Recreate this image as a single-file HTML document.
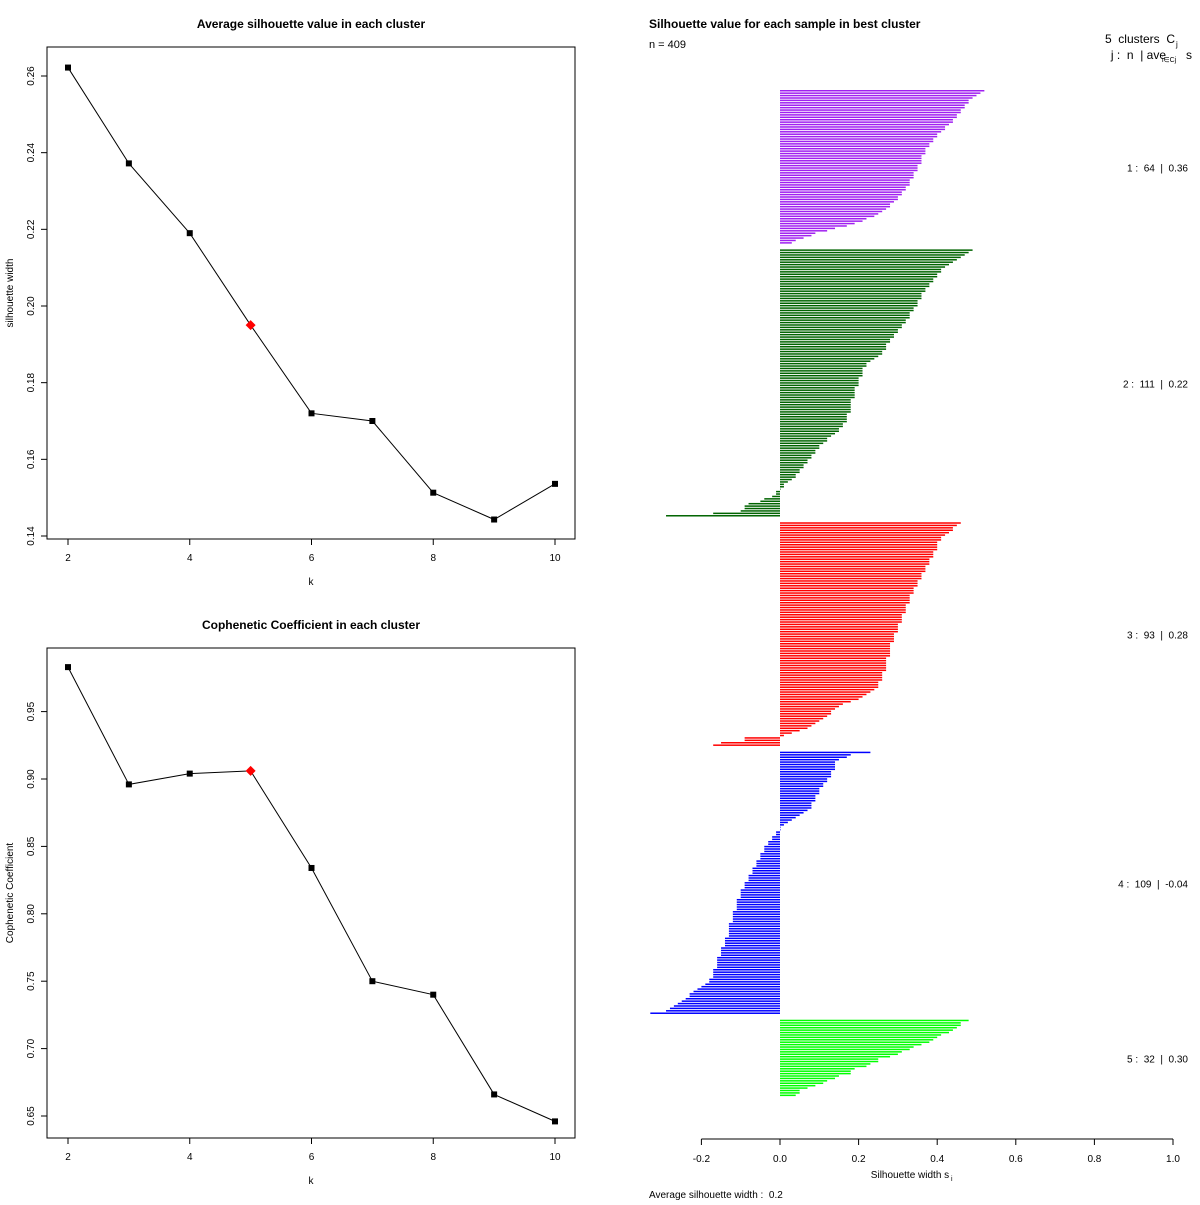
<!DOCTYPE html>
<html><head><meta charset="utf-8">
<style>
body{margin:0;background:#fff}
svg text{font-family:"Liberation Sans",sans-serif;fill:#000;white-space:pre}
</style></head>
<body>
<svg id="chart" width="1200" height="1200" xmlns="http://www.w3.org/2000/svg">
<rect x="0" y="0" width="1200" height="1200" fill="#fff"/>
<g id="p1"></g>
<g id="p2"></g>
<g id="p3"></g>
</svg>
<script>
const kVals=[2,3,4,5,6,7,8,9,10];
const silAvg=[0.2622,0.2372,0.219,0.195,0.172,0.170,0.1513,0.1443,0.1536];
const copheVals=[0.983,0.896,0.904,0.906,0.834,0.750,0.740,0.666,0.646];
const bestK=5;
const silTicks=[0.14,0.16,0.18,0.20,0.22,0.24,0.26];
const copTicks=[0.65,0.70,0.75,0.80,0.85,0.90,0.95];
const kTicks=[2,4,6,8,10];
const clusterNames=["1","2","3","4","5"];
const clusterColors=["#a020f0","#006400","#ff0000","#0000ff","#00ff00"];
const clusterAvg=["0.36","0.22","0.28","-0.04","0.30"];
const c1=[0.52,0.51,0.50,0.49,0.48,0.48,0.47,0.47,0.46,0.46,0.45,0.45,0.44,0.44,0.43,0.42,0.42,0.41,0.40,0.40,0.39,0.39,0.38,0.38,0.37,0.37,0.37,0.36,0.36,0.36,0.36,0.35,0.35,0.35,0.34,0.34,0.34,0.33,0.33,0.33,0.32,0.32,0.31,0.31,0.30,0.30,0.29,0.28,0.28,0.27,0.26,0.25,0.24,0.22,0.21,0.19,0.17,0.14,0.12,0.09,0.08,0.06,0.04,0.03];
const c2=[0.49,0.48,0.47,0.46,0.45,0.44,0.43,0.42,0.41,0.41,0.40,0.40,0.39,0.39,0.38,0.38,0.37,0.37,0.36,0.36,0.36,0.35,0.35,0.35,0.34,0.34,0.33,0.33,0.33,0.32,0.32,0.31,0.31,0.30,0.30,0.29,0.29,0.28,0.28,0.27,0.27,0.27,0.26,0.26,0.25,0.24,0.23,0.22,0.22,0.21,0.21,0.21,0.21,0.20,0.20,0.20,0.20,0.19,0.19,0.19,0.19,0.19,0.18,0.18,0.18,0.18,0.18,0.18,0.17,0.17,0.17,0.17,0.16,0.16,0.15,0.15,0.14,0.13,0.12,0.12,0.11,0.10,0.10,0.09,0.09,0.08,0.08,0.07,0.07,0.06,0.06,0.05,0.05,0.04,0.04,0.03,0.02,0.01,0.01,0.00,-0.01,-0.01,-0.02,-0.04,-0.05,-0.08,-0.09,-0.09,-0.10,-0.17,-0.29];
const c3=[0.46,0.45,0.44,0.44,0.43,0.42,0.41,0.41,0.40,0.40,0.40,0.40,0.39,0.39,0.39,0.38,0.38,0.38,0.37,0.37,0.37,0.36,0.36,0.36,0.35,0.35,0.35,0.34,0.34,0.34,0.33,0.33,0.33,0.33,0.32,0.32,0.32,0.32,0.31,0.31,0.31,0.31,0.30,0.30,0.30,0.30,0.29,0.29,0.29,0.29,0.28,0.28,0.28,0.28,0.28,0.28,0.27,0.27,0.27,0.27,0.27,0.27,0.26,0.26,0.26,0.26,0.25,0.25,0.25,0.24,0.23,0.22,0.21,0.20,0.18,0.16,0.15,0.14,0.13,0.13,0.12,0.11,0.10,0.09,0.08,0.07,0.05,0.03,0.01,-0.09,-0.09,-0.15,-0.17];
const c4=[0.23,0.18,0.17,0.15,0.14,0.14,0.14,0.14,0.13,0.13,0.13,0.12,0.12,0.11,0.11,0.10,0.10,0.10,0.09,0.09,0.09,0.08,0.08,0.08,0.07,0.06,0.05,0.04,0.03,0.02,0.01,0.00,0.00,-0.01,-0.01,-0.02,-0.02,-0.03,-0.03,-0.04,-0.04,-0.04,-0.05,-0.05,-0.05,-0.06,-0.06,-0.06,-0.07,-0.07,-0.07,-0.08,-0.08,-0.08,-0.09,-0.09,-0.09,-0.10,-0.10,-0.10,-0.10,-0.11,-0.11,-0.11,-0.11,-0.11,-0.12,-0.12,-0.12,-0.12,-0.12,-0.13,-0.13,-0.13,-0.13,-0.13,-0.13,-0.14,-0.14,-0.14,-0.14,-0.15,-0.15,-0.15,-0.15,-0.16,-0.16,-0.16,-0.16,-0.16,-0.17,-0.17,-0.17,-0.17,-0.18,-0.18,-0.19,-0.20,-0.21,-0.22,-0.23,-0.23,-0.24,-0.25,-0.26,-0.27,-0.28,-0.29,-0.33];
const c5=[0.48,0.46,0.46,0.45,0.44,0.43,0.41,0.40,0.39,0.38,0.36,0.34,0.33,0.31,0.30,0.28,0.25,0.25,0.23,0.22,0.19,0.18,0.18,0.15,0.14,0.12,0.11,0.09,0.07,0.05,0.05,0.04];
const silXTicks=[-0.2,0.0,0.2,0.4,0.6,0.8,1.0];

const NS="http://www.w3.org/2000/svg";
function mk(parent,tag,attrs,txt){const e=document.createElementNS(NS,tag);for(const k in attrs)e.setAttribute(k,attrs[k]);if(txt!==undefined)e.textContent=txt;parent.appendChild(e);return e;}

function drawLine(g,tag,vals,ticks,frameTop,frameBot,refA,refB,title,titleY,ylab,dec){
  const xL=47,xR=575;
  const xs=k=>68+(k-2)*(555-68)/8;
  const ys=v=>refA[1]+(v-refA[0])*(refB[1]-refA[1])/(refB[0]-refA[0]);
  const fr=mk(g,'rect',{x:xL,y:frameTop,width:xR-xL,height:frameBot-frameTop,fill:'none',stroke:'#000','stroke-width':1});
  
  
  const t=mk(g,'text',{x:311,y:titleY,'text-anchor':'middle','font-size':12,'font-weight':'bold'},title);
  
  
  ticks.forEach(v=>{
    const y=ys(v);
    mk(g,'line',{x1:xL,x2:xL-6,y1:y,y2:y,stroke:'#000'});
    const tl=mk(g,'text',{x:34,y:y,'text-anchor':'middle','font-size':10,transform:`rotate(-90 34 ${y})`},v.toFixed(dec));
    
    
  });
  kTicks.forEach(k=>{
    const x=xs(k);
    mk(g,'line',{x1:x,x2:x,y1:frameBot,y2:frameBot+6,stroke:'#000'});
    const tl=mk(g,'text',{x:x,y:frameBot+22,'text-anchor':'middle','font-size':10},String(k));
    
    
  });
  const xl=mk(g,'text',{x:311,y:frameBot+46,'text-anchor':'middle','font-size':10},'k');
  
  
  const my=(frameTop+frameBot)/2;
  const yl=mk(g,'text',{x:13,y:my,'text-anchor':'middle','font-size':10,transform:`rotate(-90 13 ${my})`},ylab);
  
  
  const pts=kVals.map((k,i)=>xs(k)+','+ys(vals[i])).join(' ');
  const pl=mk(g,'polyline',{points:pts,fill:'none',stroke:'#000','stroke-width':1});
  
  
  kVals.forEach((k,i)=>{
    const x=xs(k),y=ys(vals[i]);
    let m;
    if(k===bestK){m=mk(g,'polygon',{points:`${x},${y-5} ${x+5},${y} ${x},${y+5} ${x-5},${y}`,fill:'#ff0000'});}
    else{m=mk(g,'rect',{x:x-3,y:y-3,width:6,height:6,fill:'#000'});}
    
    
  });
}
drawLine(document.getElementById('p1'),'avg-silhouette',silAvg,silTicks,47,539,[0.20,306],[0.26,76],'Average silhouette value in each cluster',28,'silhouette width',2);
drawLine(document.getElementById('p2'),'cophenetic',copheVals,copTicks,648,1138,[0.90,779],[0.65,1116],'Cophenetic Coefficient in each cluster',629,'Cophenetic Coefficient',2);

const g3=document.getElementById('p3');
const clusters=[c1,c2,c3,c4,c5];
const sx=v=>780+v*393;
const total=clusters.reduce((a,c)=>a+c.length,0)+2*(clusters.length-1);
const y0=90,y1=1097,unit=(y1-y0)/total;
let pos=0;
clusters.forEach((c,ci)=>{
  const start=pos;
  const sorted=c.slice().sort((a,b)=>b-a);
  sorted.forEach(v=>{
    const y=y0+pos*unit;
    const x=Math.min(sx(0),sx(v)),w=Math.abs(sx(v)-sx(0));
    const r=mk(g3,'rect',{x:x,y:y,width:Math.max(w,0.5),height:unit*0.62,fill:clusterColors[ci]});
    
    
    pos++;
  });
  const mid=y0+(start+c.length/2)*unit+4;
  const lb=mk(g3,'text',{x:1188,y:mid,'text-anchor':'end','font-size':10},`${clusterNames[ci]} :  ${c.length}  |  ${clusterAvg[ci]}`);
  
  
  pos+=2;
});
const ax=mk(g3,'line',{x1:sx(-0.2),x2:sx(1.0),y1:1139,y2:1139,stroke:'#000'});


silXTicks.forEach(v=>{
  const x=sx(v);
  mk(g3,'line',{x1:x,x2:x,y1:1139,y2:1145,stroke:'#000'});
  const tl=mk(g3,'text',{x:x,y:1162,'text-anchor':'middle','font-size':10},v.toFixed(1));
  
  
});
const texts=[
 ['silhouette-title',649,28,'Silhouette value for each sample in best cluster',{'font-size':12,'font-weight':'bold'}],
 ['n-label',649,48,'n = 409',{'font-size':11}],
 ['clusters-header',1175,43,'5  clusters  C',{'font-size':12,'text-anchor':'end'}],
 ['legend-header',1192,59,'j :  n  | ave      s',{'font-size':12,'text-anchor':'end'}],
 ['x-axis-title',910,1178,'Silhouette width s',{'font-size':10,'text-anchor':'middle'}],
 ['average-width',649,1198,'Average silhouette width :  0.2',{'font-size':10}]
];
texts.forEach(t=>{
  const a=Object.assign({x:t[1],y:t[2]},t[4]);
  const e=mk(g3,'text',a,t[3]);
  
  
});
const sub=mk(g3,'text',{x:1176,y:47,'font-size':8},'j');


const sub3=mk(g3,'text',{x:1162,y:62,'font-size':7},'i∈Cj');


const sub2=mk(g3,'text',{x:951,y:1181,'font-size':7},'i');


</script>
</body></html>
